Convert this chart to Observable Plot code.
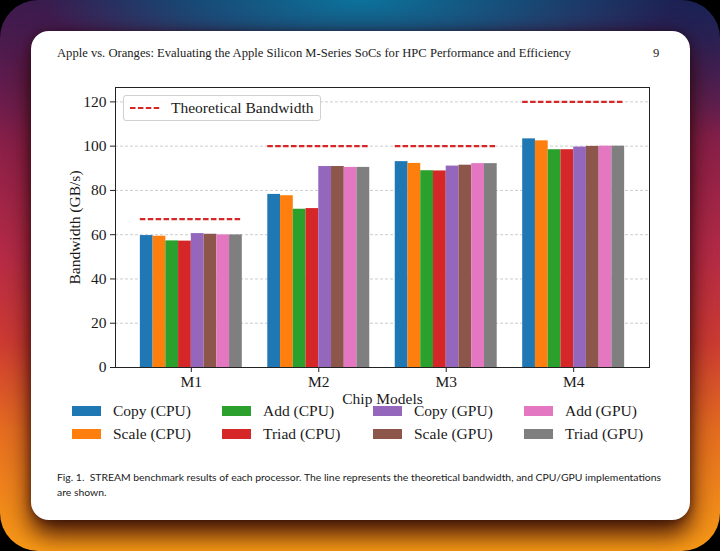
<!DOCTYPE html>
<html>
<head>
<meta charset="utf-8">
<script src="https://cdn.jsdelivr.net/npm/d3@7"></script>
<script src="https://cdn.jsdelivr.net/npm/@observablehq/plot@0.6"></script>
<style>
  html, body { margin: 0; padding: 0; width: 720px; height: 551px; background: #000; overflow: hidden; }
  #bg {
    position: absolute; left: 0; top: 0; width: 720px; height: 551px; border-radius: 38px;
    background:
      radial-gradient(ellipse 44% 14% at 50% 0%, rgba(12,115,155,1) 0%, rgba(12,100,140,0.65) 50%, rgba(12,90,130,0) 100%),
      radial-gradient(ellipse 30% 25% at 100% 0%, rgba(20,35,85,0.8) 0%, rgba(20,35,85,0) 100%),
      radial-gradient(ellipse 25% 25% at 0% 0%, rgba(75,25,75,0.6) 0%, rgba(75,25,75,0) 100%),
      linear-gradient(180deg, #2a1d50 0%, #5e1c4e 12%, #8e2048 28%, #b42a46 46%, #cc3a32 62%, #e46c20 78%, #f89a16 100%);
  }
  #card {
    position: absolute; left: 31px; top: 31px; width: 659px; height: 489px; background: #fff;
    border-radius: 18px; box-shadow: 0 14px 24px rgba(40,5,5,0.9), 0 0 8px rgba(30,0,10,0.45);
  }
  .hdr { position: absolute; font-family: "Liberation Serif", serif; font-size: 12.6px; color: #222; line-height: 1; }
  #plot { position: absolute; left: 0; top: 80px; }
  #plot svg { background: transparent !important; }
  #leg1 {
    position: absolute; left: 123px; top: 95px; width: 196px; height: 24px;
    border: 1px solid #d0d0d0; border-radius: 3px; background: rgba(255,255,255,0.85);
    font-family: "Liberation Serif", serif; font-size: 15.5px; color: #1a1a1a;
  }
  .li { position: absolute; font-family: "Liberation Serif", serif; font-size: 15.5px; color: #1a1a1a; white-space: nowrap; line-height: 1; }
  .sw { position: absolute; width: 29px; height: 10px; }
  .cap { position: absolute; left: 57px; font-family: "Lato", sans-serif; font-size: 10.4px; color: #222; white-space: nowrap; line-height: 1; }
</style>
</head>
<body>
<div id="bg"></div>
<div id="card"></div>
<div class="hdr" style="left:57px; top:47px;">Apple vs. Oranges: Evaluating the Apple Silicon M-Series SoCs for HPC Performance and Efficiency</div>
<div class="hdr" style="left:653px; top:47px;">9</div>
<div id="plot"></div>
<div id="leg1">
  <svg width="40" height="24" style="position:absolute;left:5px;top:0px">
    <line x1="1" x2="32" y1="12" y2="12" stroke="#d62728" stroke-width="2.2" stroke-dasharray="5.5,2.4"/>
  </svg>
  <span style="position:absolute; left:47px; top:3px;">Theoretical Bandwidth</span>
</div>
<div id="legend"></div>
<div class="cap" style="top:472px;">Fig. 1.&nbsp; STREAM benchmark results of each processor. The line represents the theoretical bandwidth, and CPU/GPU implementations</div>
<div class="cap" style="top:487px;">are shown.</div>
<script>
const chips = ["M1", "M2", "M3", "M4"];
const seriesNames = ["Copy (CPU)", "Scale (CPU)", "Add (CPU)", "Triad (CPU)", "Copy (GPU)", "Scale (GPU)", "Add (GPU)", "Triad (GPU)"];
const colors = ["#1f77b4", "#ff7f0e", "#2ca02c", "#d62728", "#9467bd", "#8c564b", "#e377c2", "#7f7f7f"];
const copyCPU  = [59.6, 78.2, 93.0, 103.3];
const scaleCPU = [59.3, 77.6, 92.2, 102.4];
const addCPU   = [57.2, 71.5, 88.9, 98.4];
const triadCPU = [57.1, 71.8, 88.8, 98.4];
const copyGPU  = [60.5, 90.8, 91.0, 99.6];
const scaleGPU = [60.2, 90.8, 91.4, 99.9];
const addGPU   = [59.9, 90.4, 92.1, 100.0];
const triadGPU = [59.9, 90.4, 92.1, 100.0];
const theoretical = [67, 100, 100, 120];
const yTicks = [0, 20, 40, 60, 80, 100, 120];

const seriesValues = [copyCPU, scaleCPU, addCPU, triadCPU, copyGPU, scaleGPU, addGPU, triadGPU];
const groupWidth = 0.8;
const barW = groupWidth / seriesNames.length;
const bars = [];
chips.forEach((c, i) => {
  seriesValues.forEach((vals, j) => {
    const x1 = i - groupWidth / 2 + j * barW;
    bars.push({chip: c, series: seriesNames[j], value: vals[i], x1, x2: x1 + barW});
  });
});
const theo = chips.map((c, i) => ({chip: c, i, value: theoretical[i]}));

const font = '"Liberation Serif", serif';
const chart = Plot.plot({
  width: 720,
  height: 330,
  marginLeft: 115,
  marginRight: 71,
  marginTop: 7,
  marginBottom: 43,
  style: {fontFamily: font, fontSize: "15.5px", color: "#1a1a1a", background: "transparent"},
  x: {type: "linear", domain: [-0.595, 3.595]},
  y: {domain: [0, 126.5]},
  color: {domain: seriesNames, range: colors},
  marks: [
    Plot.gridY(yTicks.slice(1), {stroke: "#b0b0b0", strokeOpacity: 0.8, strokeDasharray: "3,2", strokeWidth: 0.8}),
    Plot.rectY(bars, {x1: "x1", x2: "x2", y: "value", fill: "series", inset: 0}),
    Plot.ruleY(theo, {y: "value", x1: d => d.i - groupWidth / 2, x2: d => d.i + groupWidth / 2,
      stroke: "#d62728", strokeWidth: 2.2, strokeDasharray: "5.5,2.4"}),
    Plot.frame({stroke: "#222", strokeWidth: 1}),
    Plot.axisY({ticks: yTicks, tickSize: 5, tickPadding: 4, label: "Bandwidth (GB/s)",
      labelAnchor: "center", labelArrow: "none", labelOffset: 47, stroke: "#222"}),
    Plot.axisX({ticks: [0, 1, 2, 3], tickFormat: i => chips[i], tickSize: 5, tickPadding: 3,
      label: "Chip Models", labelAnchor: "center", labelArrow: "none", labelOffset: 36, stroke: "#222"})
  ]
});
document.getElementById("plot").appendChild(chart);

// bottom legend (matplotlib ncol=4, column-major)
const leg = document.getElementById("legend");
const colX = [72, 222, 373, 524];
const rowY = [411, 434];
seriesNames.forEach((name, j) => {
  const col = Math.floor(j / 2), row = j % 2;
  const sw = document.createElement("div");
  sw.className = "sw";
  sw.style.left = colX[col] + "px";
  sw.style.top = (rowY[row] - 5) + "px";
  sw.style.background = colors[j];
  leg.appendChild(sw);
  const t = document.createElement("div");
  t.className = "li";
  t.style.left = (colX[col] + 41) + "px";
  t.style.top = (rowY[row] - 8) + "px";
  t.textContent = name;
  leg.appendChild(t);
});
</script>
</body>
</html>
